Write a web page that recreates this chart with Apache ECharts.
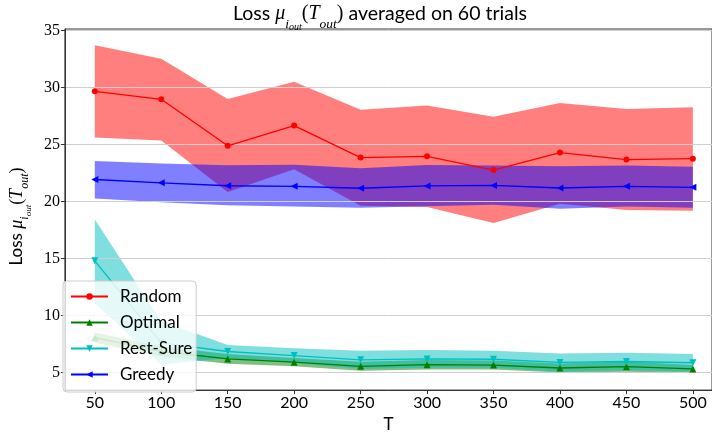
<!DOCTYPE html>
<html><head><meta charset="utf-8">
<script src="https://cdn.jsdelivr.net/npm/echarts@6/dist/echarts.min.js"></script>
<style>html,body{margin:0;padding:0;background:#fff}#c{width:712px;height:438px}</style>
</head><body><div id="c"></div>
<script>
const T = [50,100,150,200,250,300,350,400,450,500];
const yTicks = [5,10,15,20,25,30,35];
const randomMean  = [29.68,28.98,24.90,26.67,23.86,23.97,22.77,24.30,23.69,23.77];
const randomUpper = [33.73,32.53,29.00,30.51,28.06,28.44,27.44,28.66,28.12,28.27];
const randomLower = [25.62,25.37,20.85,22.83,19.63,19.53,18.11,19.82,19.25,19.19];
const optimalMean  = [8.05,6.84,6.19,5.90,5.54,5.68,5.65,5.39,5.51,5.31];
const optimalUpper = [8.50,7.28,6.61,6.26,5.94,6.10,6.04,5.78,5.97,5.65];
const optimalLower = [7.60,6.40,5.77,5.54,5.14,5.26,5.26,5.00,5.05,4.97];
const restMean  = [14.80,7.60,6.84,6.48,6.11,6.19,6.16,5.88,5.96,5.85];
const restUpper = [18.42,9.50,7.41,7.13,6.90,6.96,6.90,6.67,6.73,6.62];
const restLower = [11.10,5.70,6.27,5.83,5.32,5.42,5.42,5.09,5.19,5.08];
const greedyMean  = [21.94,21.65,21.39,21.34,21.17,21.37,21.42,21.19,21.34,21.25];
const greedyUpper = [23.56,23.35,23.18,23.24,22.93,23.22,23.16,23.10,23.16,23.05];
const greedyLower = [20.28,19.94,19.68,19.57,19.46,19.60,19.72,19.38,19.57,19.46];

const methods = [
  {name:'Random', mean:randomMean, up:randomUpper, lo:randomLower, color:'#ff0000', fill:'rgba(255,0,0,0.5)', symbol:'circle', size:6, rot:0},
  {name:'Optimal', mean:optimalMean, up:optimalUpper, lo:optimalLower, color:'#008000', fill:'rgba(0,128,0,0.5)', symbol:'triangle', size:7, rot:0},
  {name:'Rest-Sure', mean:restMean, up:restUpper, lo:restLower, color:'#00bfbf', fill:'rgba(0,191,191,0.5)', symbol:'triangle', size:7, rot:180},
  {name:'Greedy', mean:greedyMean, up:greedyUpper, lo:greedyLower, color:'#0000ff', fill:'rgba(0,0,255,0.5)', symbol:'triangle', size:7, rot:90}
];

const series = [];
methods.forEach((m, k) => {
  series.push({
    name: m.name + ' band', type:'custom', z:1, silent:true, clip:true,
    data: T.map((t,i)=>[t, m.lo[i], m.up[i]]),
    encode:{x:0, y:[1,2]},
    renderItem: (params, api) => {
      if (params.dataIndex !== 0) return null;
      const pts = [];
      for (let i = 0; i < T.length; i++) pts.push(api.coord([T[i], m.up[i]]));
      for (let i = T.length - 1; i >= 0; i--) pts.push(api.coord([T[i], m.lo[i]]));
      return {type:'polygon', shape:{points:pts}, style:{fill:m.fill}};
    },
    animation:false
  });
});
methods.forEach(m => {
  series.push({
    name: m.name, type:'line', z:3,
    data: T.map((t,i)=>[t, m.mean[i]]),
    symbol: m.symbol, symbolSize: m.size, symbolRotate: m.rot,
    itemStyle:{color:m.color}, lineStyle:{color:m.color, width:1.3}, animation:false
  });
});

const mathRich = (base, big, sub, subsub, top) => ({
  t:{fontFamily:'Lato', fontSize:base, fontWeight:'normal', lineHeight:big+4, verticalAlign:'top', color:'#000'},
  it:{fontFamily:'Liberation Serif', fontStyle:'italic', fontWeight:'normal', fontSize:big, lineHeight:big+4, verticalAlign:'top', color:'#000'},
  par:{fontFamily:'Liberation Serif', fontWeight:'normal', fontSize:big, lineHeight:big+4, verticalAlign:'top', color:'#000'},
  sub:{fontFamily:'Liberation Serif', fontStyle:'italic', fontWeight:'normal', fontSize:sub, lineHeight:sub, padding:[top,0,0,0], verticalAlign:'top', color:'#000'},
  ss:{fontFamily:'Liberation Serif', fontStyle:'italic', fontWeight:'normal', fontSize:subsub, lineHeight:subsub, padding:[top+5,0,0,0], verticalAlign:'top', color:'#000'}
});

const chart = echarts.init(document.getElementById('c'), null, {renderer:'canvas'});
chart.setOption({
  backgroundColor:'#fff',
  animation:false,
  title:{
    text:'{t|Loss }{it|μ}{sub|i}{ss|out}{par|(}{it|T}{sub|out}{par|)}{t| averaged on 60 trials}',
    left:233, top:4, padding:0,
    textStyle:{fontWeight:'normal', rich: mathRich(19.5,20,13.5,10,13)}
  },
  grid:{left:55, right:-2, top:29, bottom:38, show:true, borderColor:'#333', borderWidth:1, backgroundColor:'transparent'},
  legend:{
    data:['Random','Optimal','Rest-Sure','Greedy'],
    orient:'vertical', left:63, top:281, padding:[7,4,9,7],
    itemWidth:37, itemHeight:8, itemGap:9,
    backgroundColor:'rgba(255,255,255,0.8)', borderColor:'#cccccc', borderWidth:1, borderRadius:4,
    textStyle:{fontFamily:'Lato', fontSize:17, color:'#000', padding:[0,0,0,7]},
    z:10
  },
  xAxis:{
    type:'value', min:27.5, max:514.4,
    name:'T', nameLocation:'middle', nameGap:22,
    nameTextStyle:{fontFamily:'Lato', fontSize:17, color:'#000'},
    axisLine:{show:true, onZero:false, lineStyle:{color:'#333', width:1}},
    axisTick:{show:true, length:4, customValues:T, lineStyle:{color:'#333'}},
    axisLabel:{customValues:T, fontFamily:'Lato', fontSize:16, color:'#000', margin:5},
    splitLine:{show:false}
  },
  yAxis:{
    type:'value', min:3.45, max:35.15, z:2,
    name:'{t|Loss }{it|μ}{sub|i}{ss|out}{par|(}{it|T}{sub|out}{par|)}',
    nameLocation:'middle', nameGap:28, nameRotate:90,
    nameTextStyle:{padding:[0,14,0,0], rich: mathRich(17,18,12,9,11)},
    axisLine:{show:true, onZero:false, lineStyle:{color:'#333', width:1}},
    axisTick:{show:true, length:4, customValues:yTicks, lineStyle:{color:'#333'}},
    axisLabel:{customValues:yTicks, fontFamily:'Liberation Serif', fontSize:16, color:'#000', margin:5},
    splitLine:{show:true, lineStyle:{color:'#cfcfcf', width:1}}
  },
  series: series
});
</script></body></html>
